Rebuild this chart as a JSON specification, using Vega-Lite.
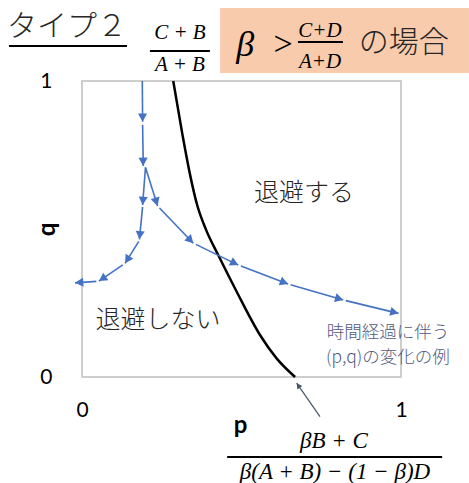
{
  "$schema": "https://vega.github.io/schema/vega-lite/v6.json",
  "width": 319,
  "height": 296,
  "autosize": {"type": "none"},
  "padding": {"left": 82, "top": 81, "right": 68, "bottom": 106},
  "background": "white",
  "view": {"stroke": "#bfbfbf", "strokeWidth": 1.5},
  "config": {"font": "Noto Sans CJK JP"},
  "datasets": {
    "box": [{"p": 0.433, "p2": 1.213, "q": 1.027, "q2": 1.247}],
    "curve": [
      {"p": 0.286, "q": 1.0},
      {"p": 0.315, "q": 0.818},
      {"p": 0.339, "q": 0.682},
      {"p": 0.361, "q": 0.581},
      {"p": 0.389, "q": 0.497},
      {"p": 0.427, "q": 0.412},
      {"p": 0.485, "q": 0.288},
      {"p": 0.558, "q": 0.142},
      {"p": 0.610, "q": 0.063},
      {"p": 0.668, "q": 0.0}
    ],
    "segs": [
      {"p": 0.189, "q": 1.0, "p2": 0.190, "q2": 0.862},
      {"p": 0.190, "q": 0.852, "p2": 0.192, "q2": 0.713},
      {"p": 0.199, "q": 0.708, "p2": 0.190, "q2": 0.581},
      {"p": 0.190, "q": 0.575, "p2": 0.180, "q2": 0.465},
      {"p": 0.178, "q": 0.458, "p2": 0.135, "q2": 0.384},
      {"p": 0.128, "q": 0.379, "p2": 0.053, "q2": 0.324},
      {"p": 0.045, "q": 0.323, "p2": -0.022, "q2": 0.318},
      {"p": 0.199, "q": 0.708, "p2": 0.237, "q2": 0.578},
      {"p": 0.243, "q": 0.571, "p2": 0.349, "q2": 0.452},
      {"p": 0.357, "q": 0.448, "p2": 0.490, "q2": 0.378},
      {"p": 0.498, "q": 0.375, "p2": 0.646, "q2": 0.314},
      {"p": 0.654, "q": 0.312, "p2": 0.819, "q2": 0.260},
      {"p": 0.827, "q": 0.258, "p2": 0.992, "q2": 0.215}
    ],
    "note_arrow": [{"p": 0.746, "q": -0.134, "p2": 0.673, "q2": -0.021}],
    "bars": [
      {"p": 0.213, "p2": 0.401, "q": 1.101},
      {"p": 0.677, "p2": 0.818, "q": 1.132},
      {"p": 0.455, "p2": 1.129, "q": -0.270},
      {"p": -0.229, "p2": 0.141, "q": 1.118}
    ],
    "math_small": [
      {"text": "C + B", "p": 0.307, "q": 1.162},
      {"text": "A + B", "p": 0.307, "q": 1.054},
      {"text": "C+D", "p": 0.746, "q": 1.169},
      {"text": "A+D", "p": 0.746, "q": 1.064}
    ],
    "math_bottom": [
      {"text": "βB + C", "p": 0.790, "q": -0.216},
      {"text": "β(A + B) − (1 − β)D", "p": 0.793, "q": -0.321}
    ],
    "beta": [{"text": "β", "p": 0.512, "q": 1.122}],
    "gt": [{"text": ">", "p": 0.630, "q": 1.122}],
    "big_jp": [
      {"text": "の場合", "p": 1.009, "q": 1.128},
      {"text": "タイプ２", "p": -0.047, "q": 1.182}
    ],
    "regions": [
      {"text": "退避する", "p": 0.696, "q": 0.622},
      {"text": "退避しない", "p": 0.238, "q": 0.193}
    ],
    "notes": [
      {"text": "時間経過に伴う", "p": 0.959, "q": 0.148},
      {"text": "(p,q)の変化の例", "p": 0.959, "q": 0.064}
    ]
  },
  "layer": [
    {
      "data": {"name": "box"},
      "mark": {"type": "rect", "fill": "#F8CBAD"},
      "encoding": {
        "x": {
          "field": "p", "type": "quantitative",
          "scale": {"domain": [0, 1], "nice": false, "zero": false},
          "axis": {
            "values": [0, 1], "format": "d", "grid": false, "domain": false, "ticks": false,
            "labelPadding": 22, "labelFontSize": 21, "labelFont": "Lato", "labelColor": "#000",
            "labelFlush": false,
            "title": "p", "titleFont": "Lato", "titleFontSize": 24, "titleFontWeight": "bold",
            "titleColor": "#000", "titleY": 55, "titleX": 158, "titleBaseline": "alphabetic"
          }
        },
        "x2": {"field": "p2"},
        "y": {
          "field": "q", "type": "quantitative",
          "scale": {"domain": [0, 1], "nice": false, "zero": false},
          "axis": {
            "values": [0, 1], "format": "d", "grid": false, "domain": false, "ticks": false,
            "labelPadding": 30, "labelFontSize": 21, "labelFont": "Lato", "labelColor": "#000",
            "labelFlush": false,
            "title": "q", "titleFont": "Lato", "titleFontSize": 24, "titleFontWeight": "bold",
            "titleColor": "#000", "titleX": -28, "titleY": 148, "titleBaseline": "alphabetic", "titleAngle": -90
          }
        },
        "y2": {"field": "q2"}
      }
    },
    {
      "data": {"name": "curve"},
      "mark": {"type": "line", "color": "#000", "strokeWidth": 2.5, "interpolate": "monotone"},
      "encoding": {
        "x": {"field": "p", "type": "quantitative"},
        "y": {"field": "q", "type": "quantitative"}
      }
    },
    {
      "data": {"name": "segs"},
      "mark": {"type": "rule", "color": "#4472C4", "strokeWidth": 1.6},
      "encoding": {
        "x": {"field": "p", "type": "quantitative"},
        "y": {"field": "q", "type": "quantitative"},
        "x2": {"field": "p2"},
        "y2": {"field": "q2"}
      }
    },
    {
      "data": {"name": "segs"},
      "transform": [{"calculate": "atan2((datum.p2-datum.p)*319, (datum.q2-datum.q)*296)*180/PI", "as": "ang"}],
      "mark": {"type": "point", "shape": "M0,0L-0.55,1L0.55,1Z", "filled": true, "color": "#4472C4", "opacity": 1, "size": 276, "strokeWidth": 0},
      "encoding": {
        "x": {"field": "p2", "type": "quantitative"},
        "y": {"field": "q2", "type": "quantitative"},
        "angle": {"field": "ang", "type": "quantitative", "scale": null}
      }
    },
    {
      "data": {"name": "note_arrow"},
      "mark": {"type": "rule", "color": "#44546A", "strokeWidth": 1.2},
      "encoding": {
        "x": {"field": "p", "type": "quantitative"},
        "y": {"field": "q", "type": "quantitative"},
        "x2": {"field": "p2"},
        "y2": {"field": "q2"}
      }
    },
    {
      "data": {"name": "note_arrow"},
      "transform": [{"calculate": "atan2((datum.p2-datum.p)*319, (datum.q2-datum.q)*296)*180/PI", "as": "ang"}],
      "mark": {"type": "point", "shape": "M0,0L-0.55,1L0.55,1Z", "filled": true, "color": "#44546A", "opacity": 1, "size": 120, "strokeWidth": 0},
      "encoding": {
        "x": {"field": "p2", "type": "quantitative"},
        "y": {"field": "q2", "type": "quantitative"},
        "angle": {"field": "ang", "type": "quantitative", "scale": null}
      }
    },
    {
      "data": {"name": "bars"},
      "mark": {"type": "rule", "color": "#000", "strokeWidth": 2},
      "encoding": {
        "x": {"field": "p", "type": "quantitative"},
        "x2": {"field": "p2"},
        "y": {"field": "q", "type": "quantitative"}
      }
    },
    {
      "data": {"name": "math_small"},
      "mark": {"type": "text", "font": "Liberation Serif", "fontStyle": "italic", "fontSize": 21, "color": "#000", "baseline": "middle"},
      "encoding": {
        "x": {"field": "p", "type": "quantitative"},
        "y": {"field": "q", "type": "quantitative"},
        "text": {"field": "text"}
      }
    },
    {
      "data": {"name": "math_bottom"},
      "mark": {"type": "text", "font": "Liberation Serif", "fontStyle": "italic", "fontSize": 23, "color": "#000", "baseline": "middle"},
      "encoding": {
        "x": {"field": "p", "type": "quantitative"},
        "y": {"field": "q", "type": "quantitative"},
        "text": {"field": "text"}
      }
    },
    {
      "data": {"name": "beta"},
      "mark": {"type": "text", "font": "Liberation Serif", "fontStyle": "italic", "fontSize": 36, "color": "#000", "baseline": "middle"},
      "encoding": {
        "x": {"field": "p", "type": "quantitative"},
        "y": {"field": "q", "type": "quantitative"},
        "text": {"field": "text"}
      }
    },
    {
      "data": {"name": "gt"},
      "mark": {"type": "text", "font": "Liberation Serif", "fontSize": 34, "color": "#000", "baseline": "middle"},
      "encoding": {
        "x": {"field": "p", "type": "quantitative"},
        "y": {"field": "q", "type": "quantitative"},
        "text": {"field": "text"}
      }
    },
    {
      "data": {"name": "big_jp"},
      "mark": {"type": "text", "font": "Noto Sans CJK JP", "fontWeight": 300, "fontSize": 30, "color": "#262626", "baseline": "middle"},
      "encoding": {
        "x": {"field": "p", "type": "quantitative"},
        "y": {"field": "q", "type": "quantitative"},
        "text": {"field": "text"}
      }
    },
    {
      "data": {"name": "regions"},
      "mark": {"type": "text", "font": "Noto Sans CJK JP", "fontWeight": 300, "fontSize": 25, "color": "#262626", "baseline": "middle"},
      "encoding": {
        "x": {"field": "p", "type": "quantitative"},
        "y": {"field": "q", "type": "quantitative"},
        "text": {"field": "text"}
      }
    },
    {
      "data": {"name": "notes"},
      "mark": {"type": "text", "font": "Noto Sans CJK JP", "fontWeight": 300, "fontSize": 17.5, "color": "#525a7e", "baseline": "middle"},
      "encoding": {
        "x": {"field": "p", "type": "quantitative"},
        "y": {"field": "q", "type": "quantitative"},
        "text": {"field": "text"}
      }
    }
  ]
}
